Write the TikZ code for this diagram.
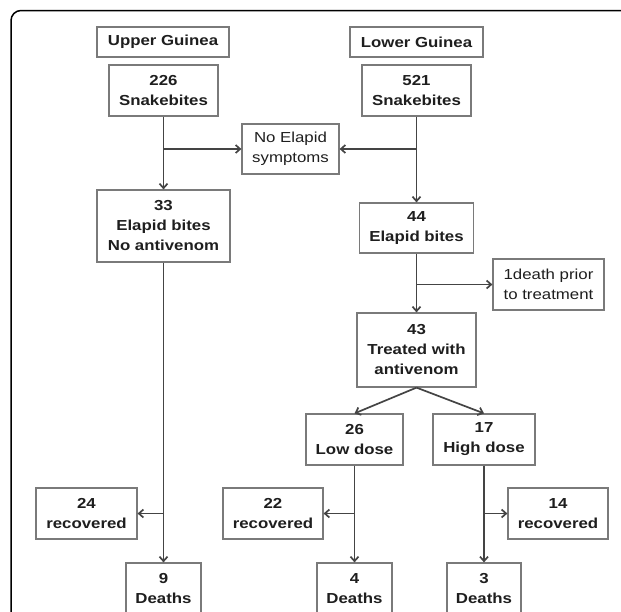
\documentclass[tikz,border=0pt]{standalone}
\usepackage{fontspec}
\setmainfont{Liberation Sans}[FakeStretch=1.16]
\usetikzlibrary{arrows.meta}
\tikzset{>={Straight Barb[length=4.5pt,width=8pt]}}
\definecolor{boxgray}{HTML}{7A7A7A}
\definecolor{linegray}{HTML}{444444}
\definecolor{txtgray}{HTML}{1E1E1E}

\begin{document}
\begin{tikzpicture}[x=1pt, y=-1pt,
    box/.style={draw=boxgray, line width=1.2pt, text=txtgray, align=center, inner sep=0pt,
        font=\fontsize{14.5}{20}\selectfont\bfseries},
    note/.style={box, font=\fontsize{14.5}{20}\selectfont},
    flow/.style={draw=linegray, line width=1.7pt, ->}]
    \clip (0,0) rectangle (621,611);
    \draw[line width=1.5pt, rounded corners=10pt] (11,640) -- (11,10.5) -- (650,10.5);
    % regions
    \node[box, minimum width=132pt, minimum height=30pt] (upper) at (163,42) {Upper Guinea};
    \node[box, minimum width=133pt, minimum height=30pt] (lower) at (416.5,42) {Lower Guinea};
    \node[box, minimum width=109pt, minimum height=51pt] (biteU) at (163.5,90.5) {226\\Snakebites};
    \node[box, minimum width=109pt, minimum height=51pt] (biteL) at (416.5,90.5) {521\\Snakebites};
    \node[note, minimum width=97pt, minimum height=50pt] (nosym) at (290.5,149) {No Elapid\\symptoms};
    \node[box, minimum width=133pt, minimum height=72pt] (elapU) at (163.5,226) {33\\Elapid bites\\No antivenom};
    \node[box, minimum width=114pt, minimum height=50pt] (elapL) at (416.5,228) {44\\Elapid bites};
    \node[note, minimum width=111pt, minimum height=51pt] (prior) at (548.5,284.5) {1death prior\\to treatment};
    \node[box, minimum width=119pt, minimum height=74pt] (treat) at (416.5,350) {43\\Treated with\\antivenom};
    \node[box, minimum width=97pt, minimum height=51pt] (low) at (354.5,439.5) {26\\Low dose};
    \node[box, minimum width=102pt, minimum height=51pt] (high) at (484,439.5) {17\\High dose};
    \node[box, minimum width=101pt, minimum height=51pt] (recU) at (86.5,513.5) {24\\recovered};
    \node[box, minimum width=100pt, minimum height=51pt] (recLow) at (273,513.5) {22\\recovered};
    \node[box, minimum width=100pt, minimum height=51pt] (recHigh) at (558,513.5) {14\\recovered};
    \node[box, minimum width=75pt, minimum height=51pt] (deadU) at (163.5,588.5) {9\\Deaths};
    \node[box, minimum width=75pt, minimum height=51pt] (deadLow) at (354.5,588.5) {4\\Deaths};
    \node[box, minimum width=74pt, minimum height=51pt] (deadHigh) at (484,588.5) {3\\Deaths};
    % connectors
    \draw[flow] (biteU) -- (elapU);
    \draw[flow] (biteU |- nosym) -- (nosym.west);
    \draw[flow] (biteL) -- (elapL);
    \draw[flow] (biteL |- nosym) -- (nosym.east);
    \draw[flow] (elapL) -- (treat);
    \draw[flow] (elapL |- prior) -- (prior.west);
    \draw[flow] (treat.south) -- (low.north);
    \draw[flow] (treat.south) -- (high.north);
    \draw[flow] (elapU) -- (deadU);
    \draw[flow] (elapU |- recU) -- (recU.east);
    \draw[flow] (low) -- (deadLow);
    \draw[flow] (low |- recLow) -- (recLow.east);
    \draw[flow] (high) -- (deadHigh);
    \draw[flow] (high |- recHigh) -- (recHigh.west);
\end{tikzpicture}
\end{document}
